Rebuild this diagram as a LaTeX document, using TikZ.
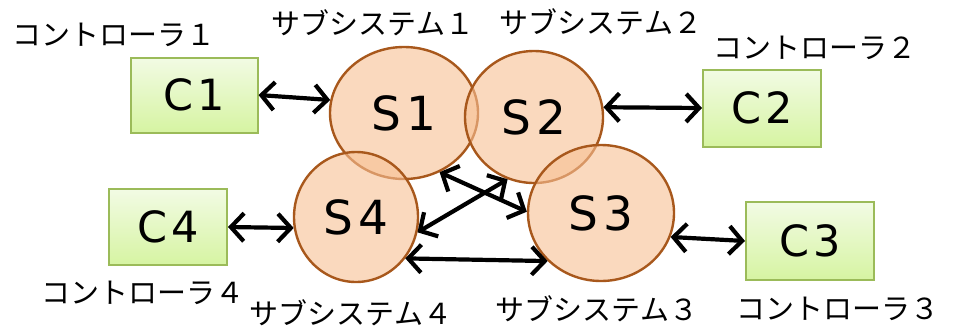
\documentclass[tikz,border=0pt]{standalone}
\usepackage{fontspec}
\setmainfont{DejaVu Sans}
\newfontfamily\jpfont{Noto Sans CJK JP}
\usetikzlibrary{shapes.geometric,arrows.meta}
\definecolor{sysfill}{RGB}{248,192,148}
\definecolor{sysdraw}{RGB}{168,88,28}
\definecolor{ctlline}{RGB}{155,187,89}
\definecolor{ctltop}{RGB}{242,251,228}
\definecolor{ctlbot}{RGB}{214,244,162}
\tikzset{
  sysnode/.style={ellipse, draw=sysdraw, line width=2.4pt, fill=sysfill, fill opacity=0.6, text opacity=1, inner sep=0pt, font=\fontsize{47}{47}\selectfont},
  ctlnode/.style={rectangle, draw=ctlline, line width=2pt, top color=ctltop, bottom color=ctlbot, inner sep=0pt, font=\fontsize{43}{43}\selectfont},
  lbl/.style={inner sep=0pt, font=\jpfont\fontsize{29}{30}\selectfont},
  link/.style={line width=4.2pt, black, {Straight Barb[length=13pt,width=28pt]}-{Straight Barb[length=13pt,width=28pt]}}
}
\begin{document}
\begin{tikzpicture}[x=1pt,y=-1pt]
\useasboundingbox[fill=white] (0,0) rectangle (957,330);
% subsystems
\node[sysnode, minimum width=148pt, minimum height=132pt] (S1) at (404,113) {S\hspace{5pt}1};
\node[sysnode, minimum width=138pt, minimum height=132pt] (S2) at (534,117) {S\hspace{5pt}2};
\node[sysnode, minimum width=146pt, minimum height=136pt] (S3) at (601,213) {S\hspace{5pt}3};
\node[sysnode, minimum width=124pt, minimum height=130pt] (S4) at (356,217) {S\hspace{5pt}4};
% controllers
\node[ctlnode, minimum width=127pt, minimum height=75pt] (C1) at (194,95) {C\hspace{4pt}1};
\node[ctlnode, minimum width=118pt, minimum height=77pt] (C2) at (762,108) {C\hspace{4pt}2};
\node[ctlnode, minimum width=128pt, minimum height=78pt] (C3) at (810,241) {C\hspace{4pt}3};
\node[ctlnode, minimum width=118pt, minimum height=76pt] (C4) at (168,227) {C\hspace{4pt}4};
% labels
\node[lbl] (L1) at (114,35) {コントローラ１};
\node[lbl] (L2) at (815,48) {コントローラ２};
\node[lbl] (L3) at (838,309) {コントローラ３};
\node[lbl] (L4) at (143,293) {コントローラ４};
\node[lbl] (M1) at (373,23) {サブシステム１};
\node[lbl] (M2) at (601,22) {サブシステム２};
\node[lbl] (M3) at (597,309) {サブシステム３};
\node[lbl] (M4) at (351,313) {サブシステム４};
% connectors
\draw[link] (C1.east) -- (S1.170);
\draw[link] (S2.8) -- (C2.west);
\draw[link] (C4.east) -- (S4.190);
\draw[link] (S3.341) -- (C3.west);
\draw[link] (S4.320) -- (S3.222);
\draw[link] (S1.301) -- (S3.179);
\draw[link] (S4.346) -- (S2.247);
\end{tikzpicture}
\end{document}
